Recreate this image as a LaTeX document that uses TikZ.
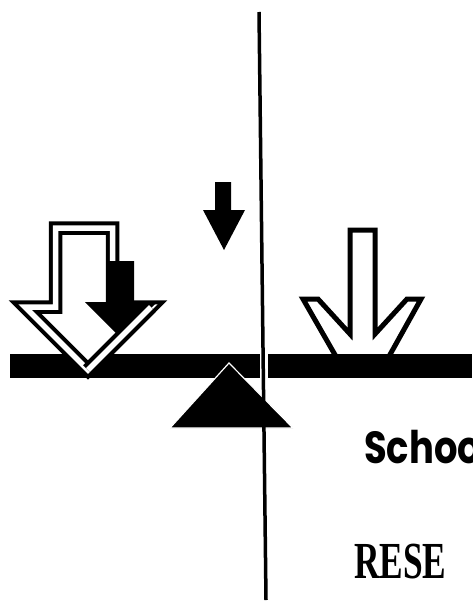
\documentclass[tikz,border=0pt]{standalone}
\usepackage{fontspec}
\newfontfamily\sansbold{Poppins}[UprightFont=* Bold, FakeStretch=0.82]
\newfontfamily\serifbold{Liberation Serif}[UprightFont=* Bold, FakeStretch=0.68]
\tikzset{
  hollow/.style={draw=black, line width=4pt, double=white, double distance=5.5pt, line join=miter, miter limit=10},
  solidarrow/.style={fill=black, draw=none},
  outlinearrow/.style={draw=black, line width=5pt, line join=miter, miter limit=10},
  beam/.style={fill=black, draw=none},
  lbl/.style={inner sep=0pt, anchor=base west}
}
\begin{document}
\begin{tikzpicture}[x=1pt, y=-1pt]
\useasboundingbox (0,0) rectangle (472,602);
\fill[white] (0,0) rectangle (472,602);
\clip (0,0) rectangle (472,602);
% right outline arrow (behind beam)
\draw[outlinearrow] (338,360) -- (303,299) -- (318,299) -- (350,334) -- (350,230) -- (375,230) -- (375,334) -- (407,299) -- (421,299) -- (387,360);
% beam
\fill[beam] (10,354) rectangle (260,378);
\fill[beam] (268,354) rectangle (472,378);
% left hollow double-outlined arrow
\fill[white] (55.5,228) -- (112.5,228) -- (112.5,307) -- (151,307) -- (88,370) -- (25,307) -- (55.5,307) -- cycle;
\draw[hollow] (55.5,228) -- (112.5,228) -- (112.5,307) -- (151,307) -- (88,370) -- (25,307) -- (55.5,307) -- cycle;
% black arrow over it
\fill[solidarrow] (108,261) -- (134,261) -- (134,302) -- (157,302) -- (121,338) -- (85,302) -- (108,302) -- cycle;
% redraw the right diagonal of the hollow head on top
\draw[hollow] (151,307) -- (88,370);
% small top arrow
\fill[solidarrow] (215,182) -- (231,182) -- (231,210) -- (245,210) -- (224,250) -- (203,210) -- (215,210) -- cycle;
% fulcrum
\filldraw[fill=black, draw=white, line width=1.2pt] (229,363) -- (293,428) -- (170,428) -- cycle;
% vertical line
\draw[line width=3.5pt] (259,12) -- (266,600);
% texts
\node[lbl] (school) at (364,463) {\sansbold\fontsize{45}{50}\selectfont Schoo};
\node[lbl] (rese) at (354,578) {\serifbold\fontsize{52}{56}\selectfont RESE};
\end{tikzpicture}
\end{document}
